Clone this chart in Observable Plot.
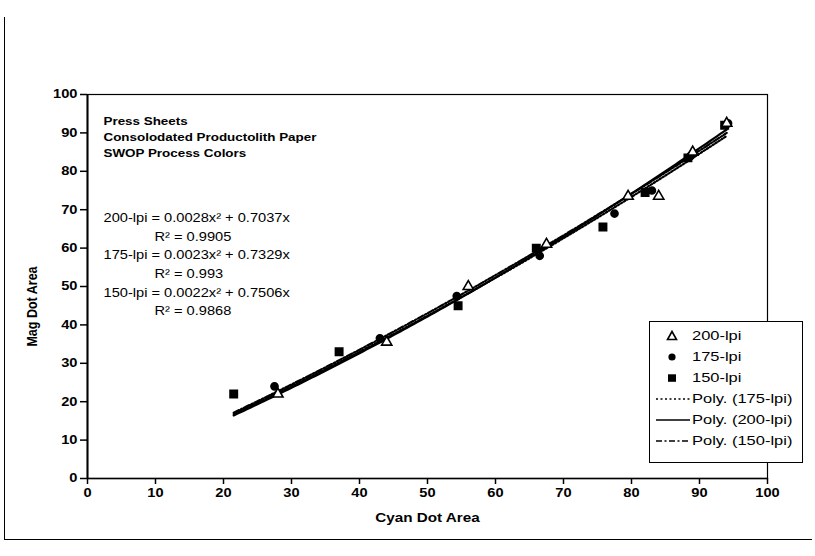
<!DOCTYPE html>
<html>
<head>
<meta charset="utf-8">
<script src="https://cdn.jsdelivr.net/npm/d3@7"></script>
<script src="https://cdn.jsdelivr.net/npm/@observablehq/plot@0.6"></script>
<style>
  body { margin: 0; background: #fff; }
  #wrap { position: relative; width: 815px; height: 556px; font-family: "Liberation Sans", Arial, sans-serif; color: #000; }
  #border { position: absolute; left: 4px; top: 17px; width: 808px; height: 523px; border-left: 1.5px solid #000; border-bottom: 1.5px solid #000; box-sizing: border-box; }
  #legend { position: absolute; left: 649px; top: 321px; width: 154px; height: 142px; border: 1.5px solid #000; background: #fff; box-sizing: border-box; }
  .row { position: absolute; left: 0; height: 20px; width: 150px; }
  .row svg { position: absolute; left: 4px; top: 0; }
  .row span { position: absolute; left: 42px; top: 1px; font-size: 13.5px; line-height: 18px; white-space: nowrap; transform: scaleX(1.22); transform-origin: left center; }
</style>
</head>
<body>
<div id="wrap">
  <div id="border"></div>
  <div id="chart"></div>
  <div id="legend"></div>
</div>
<script>
// ---- data ----
const cyan200 = [28, 44, 56, 67.5, 79.5, 84, 89, 94];
const mag200  = [22, 35.5, 50, 61, 73.5, 73.5, 85, 92.5];
const cyan175 = [27.5, 43, 54.3, 66.5, 77.5, 83, 88.7, 94.2];
const mag175  = [24, 36.5, 47.5, 58, 69, 75, 84, 92.5];
const cyan150 = [21.5, 37, 54.5, 66, 75.8, 82, 88.3, 93.7];
const mag150  = [22, 33, 45, 60, 65.5, 74.5, 83.5, 92];

// polynomial trendlines y = a*x^2 + b*x, as printed on the chart
const trendNames = ["175-lpi", "200-lpi", "150-lpi"];
const trendA = [0.0023, 0.0028, 0.0022];
const trendB = [0.7329, 0.7037, 0.7506];
const trendRange = [21.5, 94];

const xTicks = [0, 10, 20, 30, 40, 50, 60, 70, 80, 90, 100];
const yTicks = [0, 10, 20, 30, 40, 50, 60, 70, 80, 90, 100];

const titleText = "Press Sheets\nConsolodated Productolith Paper\nSWOP Process Colors";
const eqLabels = [
  "200-lpi = 0.0028x² + 0.7037x",
  "R² = 0.9905",
  "175-lpi = 0.0023x² + 0.7329x",
  "R² = 0.993",
  "150-lpi = 0.0022x² + 0.7506x",
  "R² = 0.9868"
];
const legendLabels = ["200-lpi", "175-lpi", "150-lpi", "Poly. (175-lpi)", "Poly. (200-lpi)", "Poly. (150-lpi)"];

// ---- build tables ----
const pts200 = cyan200.map((x, i) => ({x, y: mag200[i]}));
const pts175 = cyan175.map((x, i) => ({x, y: mag175[i]}));
const pts150 = cyan150.map((x, i) => ({x, y: mag150[i]}));
const xs = d3.range(trendRange[0], trendRange[1] + 0.001, 0.5);
const dashes = {"175-lpi": "1.5,2", "200-lpi": null, "150-lpi": "6,2,1.5,2"};
const trendMarks = trendNames.map((name, i) =>
  Plot.line(xs.map(x => ({x, y: trendA[i] * x * x + trendB[i] * x})), {
    x: "x", y: "y", stroke: "#000", strokeWidth: 2.2,
    strokeDasharray: dashes[name] || undefined
  })
);

const font = "Liberation Sans, Arial, sans-serif";

const chart = Plot.plot({
  width: 815,
  height: 556,
  marginLeft: 87,
  marginRight: 48,
  marginTop: 94,
  marginBottom: 78,
  style: {fontFamily: font, background: "#fff", color: "#000"},
  x: {domain: [0, 100]},
  y: {domain: [0, 100]},
  marks: [
    Plot.frame({stroke: "#000", strokeWidth: 1.2}),
    Plot.axisX({ticks: xTicks, tickSize: 6, tickPadding: 4, fontWeight: "bold", fontSize: 12, label: null, strokeWidth: 1.5}),
    Plot.axisY({ticks: yTicks, tickSize: 7, tickPadding: 3, fontWeight: "bold", fontSize: 12, label: null, strokeWidth: 1.5}),
    Plot.ruleX([0], {stroke: "#000", strokeWidth: 2}),
    Plot.ruleY([0], {stroke: "#000", strokeWidth: 1.6}),
    ...trendMarks,
    Plot.dot(pts150, {x: "x", y: "y", symbol: "square", r: 4.2, fill: "#000", stroke: "#000"}),
    Plot.dot(pts175, {x: "x", y: "y", symbol: "circle", r: 3.6, fill: "#000", stroke: "#000"}),
    Plot.dot(pts200, {x: "x", y: "y", symbol: "triangle", r: 3.8, fill: "#fff", stroke: "#000", strokeWidth: 1.6}),
    Plot.text([titleText], {frameAnchor: "top-left", dx: 16, dy: 19, lineAnchor: "top", textAnchor: "start", lineHeight: 1.45, fontSize: 11, fontWeight: "bold", fill: "#000"}),
    ...eqLabels.map((t, i) => Plot.text([t], {
      frameAnchor: "top-left", dx: i % 2 ? 67 : 16, dy: 123.5 + i * 18.7,
      lineAnchor: "middle", textAnchor: "start", fontSize: 12, fill: "#000"
    })),
    Plot.text(["Cyan Dot Area"], {frameAnchor: "bottom", dy: 39, lineAnchor: "middle", textAnchor: "middle", fontSize: 12.5, fontWeight: "bold", fill: "#000"}),
    Plot.text(["Mag Dot Area"], {frameAnchor: "left", dx: -55, dy: 20, rotate: -90, lineAnchor: "middle", textAnchor: "middle", fontSize: 12.5, fontWeight: "bold", fill: "#000"})
  ]
});

// the scanned original is stretched horizontally; mimic that on the text
chart.querySelectorAll("text").forEach(el => {
  const t = el.getAttribute("transform");
  if (t == null) return;
  el.setAttribute("transform", t + (/rotate\(-90/.test(t) ? " scale(1,1.22)" : " scale(1.22,1)"));
});

document.getElementById("chart").appendChild(chart);

// ---- legend ----
const legend = document.getElementById("legend");
const symbolSvg = [
  '<svg width="36" height="20"><path d="M18,5.5 L22.5,13.5 L13.5,13.5 Z" fill="#fff" stroke="#000" stroke-width="1.6"/></svg>',
  '<svg width="36" height="20"><circle cx="18" cy="10" r="3.6" fill="#000"/></svg>',
  '<svg width="36" height="20"><rect x="14" y="6.3" width="8" height="7.5" fill="#000"/></svg>',
  '<svg width="36" height="20"><line x1="2" y1="10" x2="36" y2="10" stroke="#000" stroke-width="1.3" stroke-dasharray="2,2.5"/></svg>',
  '<svg width="36" height="20"><line x1="2" y1="10" x2="36" y2="10" stroke="#000" stroke-width="1.5"/></svg>',
  '<svg width="36" height="20"><line x1="2" y1="10" x2="36" y2="10" stroke="#000" stroke-width="1.3" stroke-dasharray="6,2.5,2,2.5"/></svg>'
];
legendLabels.forEach((lab, i) => {
  const row = document.createElement("div");
  row.className = "row";
  row.style.top = (4 + i * 21) + "px";
  row.innerHTML = symbolSvg[i] + "<span></span>";
  row.querySelector("span").textContent = lab;
  legend.appendChild(row);
});
</script>
</body>
</html>
